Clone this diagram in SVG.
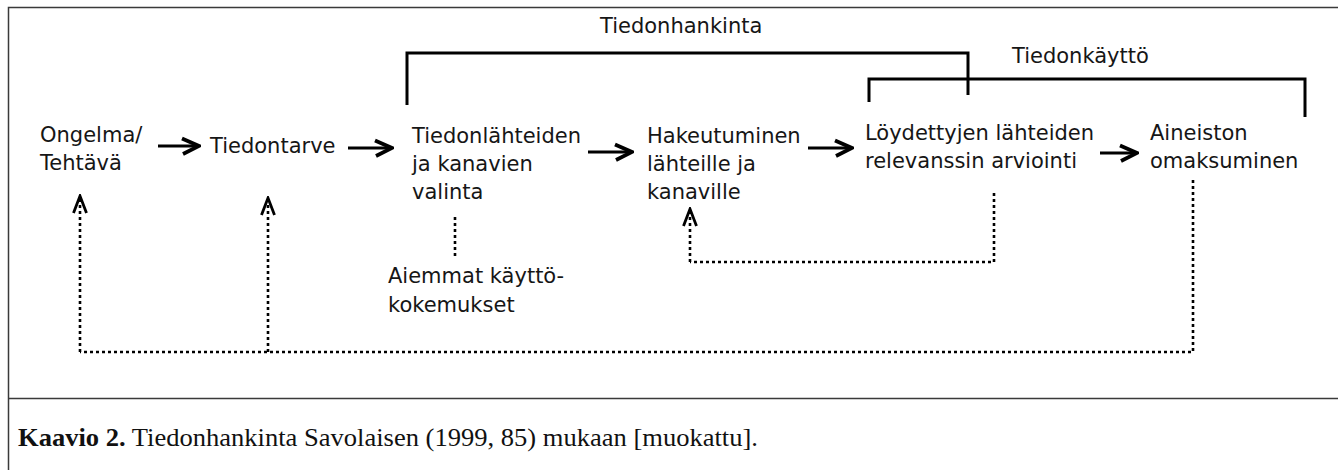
<svg xmlns="http://www.w3.org/2000/svg" width="1338" height="470" viewBox="0 0 1338 470">
  <style>
    .lbl { font-family: "DejaVu Sans", "Verdana", sans-serif; font-size: 21px; fill: #161616; }
    .frame { stroke: #3a3a3a; stroke-width: 1.5; fill: none; }
    .solid { stroke: #000; stroke-width: 3.2; fill: none; marker-end: url(#head); }
    .bracket { stroke: #000; stroke-width: 3; fill: none; stroke-linejoin: miter; }
    .dot { stroke: #000; stroke-width: 2.6; fill: none; stroke-dasharray: 3 3; }
    .doth { stroke: #000; stroke-width: 2.6; fill: none; stroke-dasharray: 3 3; marker-end: url(#dhead); }
    .cap { font-family: "Liberation Serif", "Times New Roman", serif; font-size: 26px; fill: #111; }
  </style>
  <defs>
    <marker id="head" viewBox="-20 -11 22 22" markerWidth="22" markerHeight="22" refX="0" refY="0" orient="auto" markerUnits="userSpaceOnUse">
      <path d="M-17,-7.5 L0,0 L-16,8" fill="none" stroke="#000" stroke-width="3.8"/>
    </marker>
    <marker id="dhead" viewBox="-20 -10 22 20" markerWidth="22" markerHeight="20" refX="0" refY="0" orient="auto" markerUnits="userSpaceOnUse">
      <path d="M-17,-6.5 L0,0 L-17,6.5" fill="none" stroke="#000" stroke-width="2.8"/>
    </marker>
  </defs>
  <rect width="1338" height="470" fill="#fff"/>
  <g id="frame">
    <path class="frame" d="M8.5,470 V7.5 H1338"/>
    <path class="frame" d="M8.5,398.5 H1338"/>
  </g>
  <g id="brackets">
    <path class="bracket" d="M407,105 V53 H968 V95"/>
    <path class="bracket" d="M869,102 V79 H1305 V117"/>
    <text class="lbl" x="600" y="33">Tiedonhankinta</text>
    <text class="lbl" x="1012" y="63">Tiedonkäyttö</text>
  </g>
  <g id="n-ongelma">
    <text class="lbl" x="40" y="142">Ongelma/</text>
    <text class="lbl" x="40" y="170">Tehtävä</text>
  </g>
  <g id="n-tiedontarve">
    <text class="lbl" x="210" y="153">Tiedontarve</text>
  </g>
  <g id="n-valinta">
    <text class="lbl" x="412" y="143">Tiedonlähteiden</text>
    <text class="lbl" x="412" y="171">ja kanavien</text>
    <text class="lbl" x="412" y="199">valinta</text>
  </g>
  <g id="n-hakeutuminen">
    <text class="lbl" x="647" y="143">Hakeutuminen</text>
    <text class="lbl" x="647" y="171">lähteille ja</text>
    <text class="lbl" x="647" y="199">kanaville</text>
  </g>
  <g id="n-arviointi">
    <text class="lbl" x="865" y="140">Löydettyjen lähteiden</text>
    <text class="lbl" x="865" y="168">relevanssin arviointi</text>
  </g>
  <g id="n-omaksuminen">
    <text class="lbl" x="1150" y="140">Aineiston</text>
    <text class="lbl" x="1150" y="168">omaksuminen</text>
  </g>
  <g id="n-aiemmat">
    <text class="lbl" x="388" y="283">Aiemmat käyttö-</text>
    <text class="lbl" x="388" y="312">kokemukset</text>
  </g>
  <g id="connectors">
    <path class="solid" d="M158,146 H199"/>
    <path class="solid" d="M348,148 H392"/>
    <path class="solid" d="M588,152 H632"/>
    <path class="solid" d="M808,148 H852"/>
    <path class="solid" d="M1100,153 H1137"/>
    <path class="dot" d="M1193,180 V352 H80"/>
    <path class="doth" d="M80,352 V196"/>
    <path class="doth" d="M268,352 V198"/>
    <path class="dot" d="M455,217 V257"/>
    <path class="dot" d="M994,193 V262 H690"/>
    <path class="doth" d="M690,262 V209"/>
  </g>
  <g id="caption">
    <text class="cap" x="18" y="446" textLength="740" lengthAdjust="spacingAndGlyphs"><tspan font-weight="bold">Kaavio 2.</tspan> Tiedonhankinta Savolaisen (1999, 85) mukaan [muokattu].</text>
  </g>
</svg>
